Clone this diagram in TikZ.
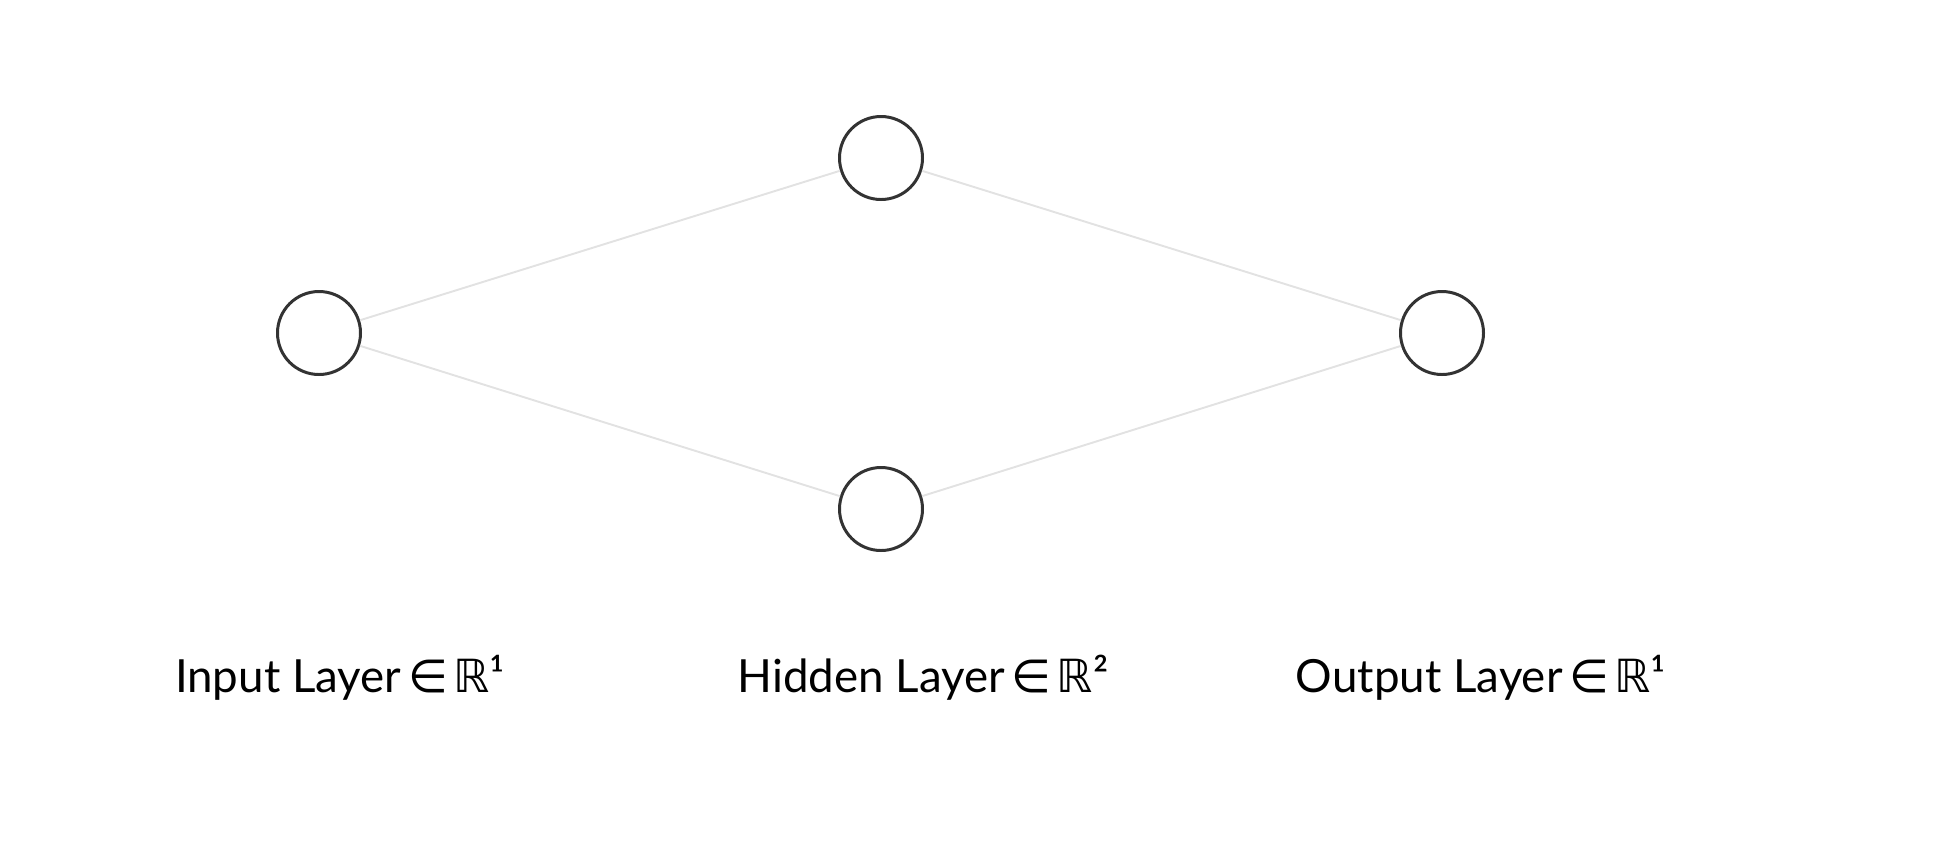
\documentclass[tikz,border=0pt]{standalone}
\usepackage{fontspec}
\setmainfont{Lato}
\newfontfamily\symfont{DejaVu Sans}
\usetikzlibrary{positioning}
\definecolor{ringgray}{HTML}{333333}
\definecolor{wiregray}{HTML}{E2E2E2}
\tikzstyle{conn}  =[line width=1.1pt, draw=wiregray]
\tikzstyle{neuron}=[circle, draw=ringgray, fill=white,
                    minimum size=1.66cm, line width=1.7pt,
                    inner sep=0pt]
\tikzstyle{layerlabel}=[inner sep=0pt, anchor=base,
                    font=\fontsize{26}{32}\selectfont]
\newcommand{\inR}[1]{\hspace{0.15em}{\symfont ∈\hspace{0.12em}ℝ}#1}

\begin{document}
\begin{tikzpicture}[node distance=1cm, on grid]
    \useasboundingbox (0,0) rectangle (38.68,-16.96);
    \begin{scope}[every node/.style={neuron}]
        \node (in) at (6.38,-6.66) {};
        \node (h1) [above right=3.5cm and 11.24cm of in] {};
        \node (h2) [below right=3.52cm and 11.24cm of in] {};
        \node (out) [right=22.46cm of in] {};
    \end{scope}
    \draw[conn] (in) -- (h1);
    \draw[conn] (in) -- (h2);
    \draw[conn] (h1) -- (out);
    \draw[conn] (h2) -- (out);
    \node (lin)  [layerlabel] at (6.80,-13.84)  {Input Layer\inR{¹}};
    \node (lhid) [layerlabel] at (18.46,-13.84) {Hidden Layer\inR{²}};
    \node (lout) [layerlabel] at (29.62,-13.84) {Output Layer\inR{¹}};
\end{tikzpicture}
\end{document}
